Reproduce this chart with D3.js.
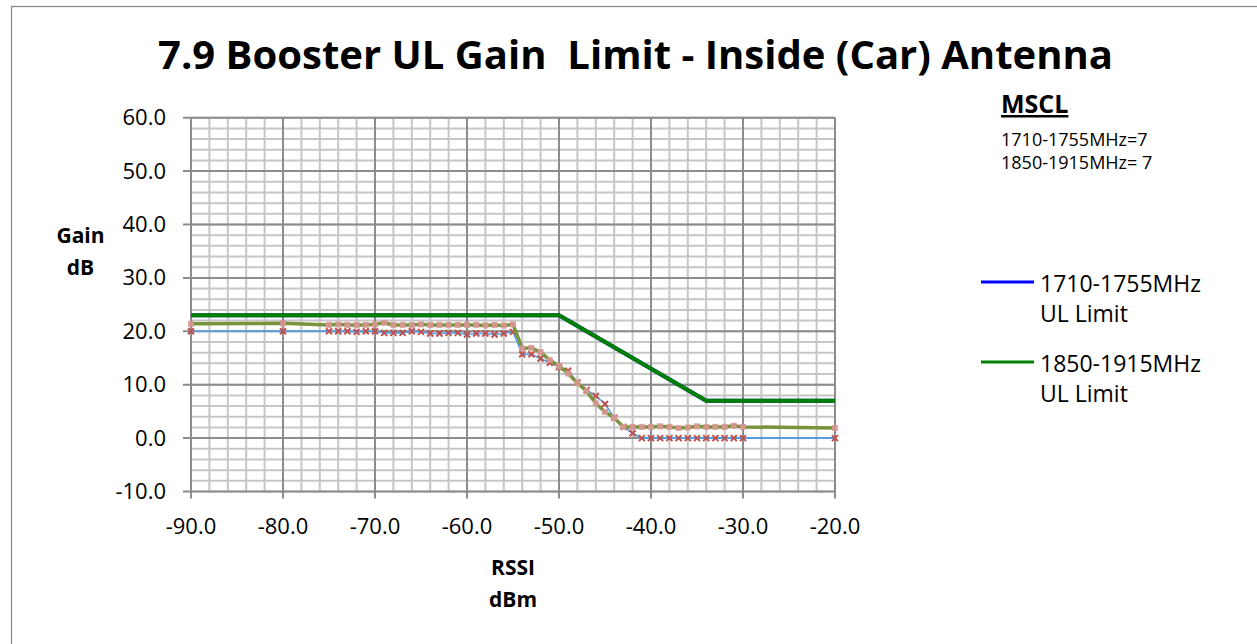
<!DOCTYPE html>
<html>
<head>
<meta charset="utf-8">
<script src="https://cdn.jsdelivr.net/npm/d3@7"></script>
<style>
body { margin: 0; background: #fff; }
svg { display: block; font-family: "Open Sans", sans-serif; }
</style>
</head>
<body>
<svg width="1257" height="644"></svg>
<script>
var svg = d3.select("svg");

// chart data
var rssi = [-90, -80, -75, -74, -73, -72, -71, -70, -69, -68, -67, -66, -65, -64, -63, -62, -61, -60,
  -59, -58, -57, -56, -55, -54, -53, -52, -51, -50, -49, -48, -47, -46, -45, -44, -43, -42, -41, -40,
  -39, -38, -37, -36, -35, -34, -33, -32, -31, -30, -20];
var gain1710 = [20.0, 20.0, 20.0, 20.0, 20.0, 19.9, 20.0, 20.0, 19.7, 19.7, 19.7, 20.0, 19.9, 19.6, 19.6, 19.7, 19.7, 19.4,
  19.6, 19.6, 19.4, 19.6, 19.9, 15.7, 15.7, 14.9, 14.1, 13.3, 12.6, 10.4, 9.0, 7.9, 6.4, 3.8, 2.1, 0.9, 0.0, 0.0,
  0.0, 0.0, 0.0, 0.0, 0.0, 0.0, 0.0, 0.0, 0.0, 0.0, 0.0];
var gain1850 = [21.4, 21.5, 21.2, 21.3, 21.2, 21.2, 21.2, 21.3, 21.6, 21.2, 21.2, 21.2, 21.3, 21.2, 21.2, 21.2, 21.2, 21.2,
  21.2, 21.1, 21.2, 21.1, 21.3, 16.8, 16.9, 16.1, 14.6, 13.5, 12.1, 10.3, 8.8, 6.5, 4.9, 3.8, 2.1, 2.1, 2.1, 2.1,
  2.2, 2.1, 1.9, 2.0, 2.2, 2.1, 2.1, 2.1, 2.3, 2.1, 1.9];
var limitRssi = [-90, -50, -34, -20];
var limit1710 = [23, 23, 7, 7];
var limit1850 = [23, 23, 7, 7];

var xTicks = [-90, -80, -70, -60, -50, -40, -30, -20];
var yTicks = [-10, 0, 10, 20, 30, 40, 50, 60];
var legendNames = ["1710-1755MHz", "1850-1915MHz"];
var legendColors = ["#0000ff", "#008000"];

var x = d3.scaleLinear().domain([-90, -20]).range([191, 835]);
var y = d3.scaleLinear().domain([-10, 60]).range([491.5, 117.7]);

// outer border
svg.append("rect").attr("x", 11.5).attr("y", 6.5).attr("width", 1300).attr("height", 700)
  .attr("fill", "none").attr("stroke", "#8c8c8c").attr("stroke-width", 1.3);

// title
svg.append("text").attr("x", 158).attr("y", 69)
  .attr("font-size", 40).attr("font-weight", "bold")
  .style("white-space", "pre")
  .attr("textLength", 955).attr("lengthAdjust", "spacingAndGlyphs")
  .text("7.9 Booster UL Gain  Limit - Inside (Car) Antenna");

// minor grid every 2 units
var g = svg.append("g");
g.selectAll(".vmin").data(d3.range(-90, -19, 2)).enter().append("line")
  .attr("x1", d => x(d)).attr("x2", d => x(d)).attr("y1", y(60)).attr("y2", y(-10))
  .attr("stroke", "#c6c6c6").attr("stroke-width", 2);
g.selectAll(".hmin").data(d3.range(-10, 61, 2)).enter().append("line")
  .attr("x1", x(-90)).attr("x2", x(-20)).attr("y1", d => y(d)).attr("y2", d => y(d))
  .attr("stroke", "#c6c6c6").attr("stroke-width", 2);

// major grid
g.selectAll(".vmaj").data(xTicks).enter().append("line")
  .attr("x1", d => x(d)).attr("x2", d => x(d)).attr("y1", y(60)).attr("y2", y(-10) + 7)
  .attr("stroke", "#8c8c8c").attr("stroke-width", 2);
g.selectAll(".hmaj").data(yTicks).enter().append("line")
  .attr("x1", x(-90) - 8).attr("x2", x(-20)).attr("y1", d => y(d)).attr("y2", d => y(d))
  .attr("stroke", "#8c8c8c").attr("stroke-width", 2);

// tick labels
svg.append("g").selectAll("text").data(xTicks).enter().append("text")
  .attr("x", d => x(d)).attr("y", 534).attr("text-anchor", "middle")
  .attr("font-size", 22).text(d => d.toFixed(1));
svg.append("g").selectAll("text").data(yTicks).enter().append("text")
  .attr("x", 166).attr("y", d => y(d) + 7.5).attr("text-anchor", "end")
  .attr("font-size", 22).text(d => d.toFixed(1));

// axis titles
svg.append("text").attr("x", 80.5).attr("y", 243).attr("text-anchor", "middle")
  .attr("font-size", 21).attr("font-weight", "bold").text("Gain");
svg.append("text").attr("x", 80.5).attr("y", 275).attr("text-anchor", "middle")
  .attr("font-size", 21).attr("font-weight", "bold").text("dB");
svg.append("text").attr("x", 513).attr("y", 575).attr("text-anchor", "middle")
  .attr("font-size", 21).attr("font-weight", "bold").text("RSSI");
svg.append("text").attr("x", 513).attr("y", 607).attr("text-anchor", "middle")
  .attr("font-size", 21).attr("font-weight", "bold").text("dBm");

// measured data
var line = d3.line().x(d => x(d[0])).y(d => y(d[1]));
var ptsA = rssi.map((r, i) => [r, gain1710[i]]);
var ptsB = rssi.map((r, i) => [r, gain1850[i]]);

svg.append("path").datum(ptsA).attr("d", line)
  .attr("fill", "none").attr("stroke", "#4f9fec").attr("stroke-width", 1.6);
svg.append("g").selectAll("path").data(ptsA).enter().append("path")
  .attr("transform", d => "translate(" + x(d[0]) + "," + y(d[1]) + ")")
  .attr("d", "M-3,-3L3,3M-3,3L3,-3")
  .attr("stroke", "#c0504d").attr("stroke-width", 2).attr("fill", "none");

svg.append("path").datum(ptsB).attr("d", line)
  .attr("fill", "none").attr("stroke", "#77933c").attr("stroke-width", 3.5);
svg.append("g").selectAll("rect").data(ptsB).enter().append("rect")
  .attr("x", d => x(d[0]) - 3).attr("y", d => y(d[1]) - 3)
  .attr("width", 6).attr("height", 6)
  .attr("fill", "#d99694").attr("opacity", 0.9);

// limit lines
svg.append("path").datum(limitRssi.map((r, i) => [r, limit1710[i]])).attr("d", line)
  .attr("fill", "none").attr("stroke", legendColors[0]).attr("stroke-width", 4);
svg.append("path").datum(limitRssi.map((r, i) => [r, limit1850[i]])).attr("d", line)
  .attr("fill", "none").attr("stroke", legendColors[1]).attr("stroke-width", 4);

// MSCL note
svg.append("text").attr("x", 1001).attr("y", 113).attr("font-size", 25).attr("font-weight", "bold")
  .attr("text-decoration", "underline").text("MSCL");
svg.append("text").attr("x", 1001).attr("y", 146).attr("font-size", 18).text("1710-1755MHz=7");
svg.append("text").attr("x", 1001).attr("y", 169).attr("font-size", 18).style("white-space", "pre").text("1850-1915MHz= 7");

// legend
var leg = svg.append("g").selectAll("g").data(legendNames).enter().append("g")
  .attr("transform", (d, i) => "translate(0," + (i * 80) + ")");
leg.append("line").attr("x1", 981).attr("x2", 1034).attr("y1", 282).attr("y2", 282)
  .attr("stroke", (d, i) => legendColors[i]).attr("stroke-width", 3);
leg.append("text").attr("x", 1040).attr("y", 292).attr("font-size", 23).text(d => d);
leg.append("text").attr("x", 1040).attr("y", 322).attr("font-size", 23).text("UL Limit");
</script>
</body>
</html>
